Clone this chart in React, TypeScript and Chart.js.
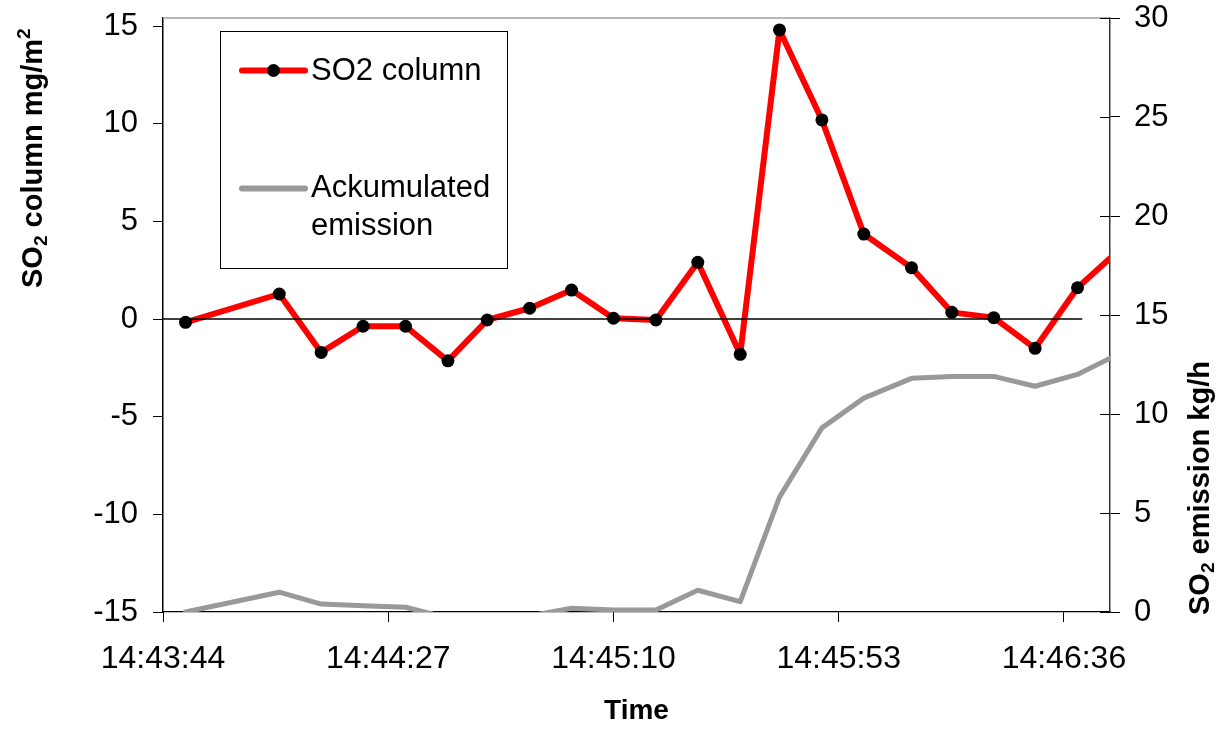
import React, { useEffect, useRef } from "react";
import { Chart, registerables } from "chart.js";

Chart.register(...registerables);

const W = 1226;
const H = 731;
const FONT = "'Liberation Sans', Arial, Helvetica, sans-serif";

// ---- data ----
// seconds after 14:43:44
const timeSeconds = [4.3, 22.2, 30.2, 38.2, 46.3, 54.4, 61.9, 70.0, 78.0, 86.0, 94.1, 102.1, 110.2, 117.7, 125.8, 133.8, 142.9, 150.6, 158.6, 166.5, 174.6, 182.6];
const so2Column = [-0.17, 1.28, -1.71, -0.37, -0.37, -2.14, -0.05, 0.55, 1.48, 0.04, -0.05, 2.9, -1.81, 14.8, 10.19, 4.35, 2.63, 0.34, 0.07, -1.5, 1.6, 3.55];
const accumulatedEmission = [0.0, 1.0, 0.4, 0.32, 0.24, -0.3, -0.4, -0.2, 0.19, 0.1, 0.1, 1.1, 0.52, 5.8, 9.3, 10.8, 11.8, 11.9, 11.9, 11.4, 12.0, 13.05];
const zeroLineX = [0, 175.5];
const zeroLineY = [0, 0];

const startTimeSec = 14 * 3600 + 43 * 60 + 44;
const xTickSeconds = [0, 43, 86, 129, 172];
const xMaxSeconds = 180.8;
const leftTicks = [-15, -10, -5, 0, 5, 10, 15];
const rightTicks = [0, 5, 10, 15, 20, 25, 30];

const legendLabelSO2 = "SO2 column";
const legendLabelEmission = ["Ackumulated", "emission"];
const xTitle = "Time";
const leftTitleParts: [string, string][] = [["SO", "n"], ["2", "sub"], [" column mg/m", "n"], ["2", "sup"]];
const rightTitleParts: [string, string][] = [["SO", "n"], ["2", "sub"], [" emission kg/h", "n"]];

const RED = "#ff0000";
const GREY = "#999999";

function fmtTime(sec: number) {
  const t = Math.round(startTimeSec + sec);
  const h = Math.floor(t / 3600);
  const m = Math.floor((t % 3600) / 60);
  const s = t % 60;
  const p = (n: number) => String(n).padStart(2, "0");
  return `${h}:${p(m)}:${p(s)}`;
}

function drawVerticalRich(ctx: CanvasRenderingContext2D, x: number, y: number, parts: [string, string][], size: number) {
  ctx.save();
  ctx.translate(x, y);
  ctx.rotate(-Math.PI / 2);
  ctx.textBaseline = "alphabetic";
  ctx.textAlign = "left";
  ctx.fillStyle = "#000";
  let cx = 0;
  for (const [text, kind] of parts) {
    let fs = size;
    let dy = 0;
    if (kind === "sub") {
      fs = size * 0.66;
      dy = size * 0.17;
    } else if (kind === "sup") {
      fs = size * 0.66;
      dy = -size * 0.42;
    }
    ctx.font = `bold ${fs}px ${FONT}`;
    ctx.fillText(text, cx, dy);
    cx += ctx.measureText(text).width;
  }
  ctx.restore();
}

const decorPlugin = {
  id: "decor",
  beforeDatasetsDraw(chart: any) {
    const { ctx, chartArea: ca } = chart;
    ctx.save();
    ctx.strokeStyle = "#a0a0a0";
    ctx.lineWidth = 1.5;
    ctx.beginPath();
    ctx.moveTo(ca.left, ca.top);
    ctx.lineTo(ca.right, ca.top);
    ctx.stroke();
    const y2 = chart.scales.y2;
    ctx.strokeStyle = "#000";
    ctx.lineWidth = 1;
    y2.ticks.forEach((t: any) => {
      const py = Math.round(y2.getPixelForValue(t.value)) + 0.5;
      ctx.beginPath();
      ctx.moveTo(ca.right - 10, py);
      ctx.lineTo(ca.right, py);
      ctx.stroke();
    });
    ctx.restore();
  },
  afterDraw(chart: any) {
    const { ctx, chartArea: ca } = chart;
    ctx.save();
    // legend box
    const bx = ca.left + 57;
    const by = ca.top + 13;
    ctx.fillStyle = "#fff";
    ctx.fillRect(bx, by, 287, 237);
    ctx.strokeStyle = "#000";
    ctx.lineWidth = 1;
    ctx.strokeRect(bx + 0.5, by + 0.5, 287, 237);

    ctx.lineCap = "round";
    ctx.lineWidth = 6;
    // SO2 column
    const y1 = by + 39.5;
    ctx.strokeStyle = RED;
    ctx.beginPath();
    ctx.moveTo(bx + 22, y1);
    ctx.lineTo(bx + 85, y1);
    ctx.stroke();
    ctx.fillStyle = "#000";
    ctx.beginPath();
    ctx.arc(bx + 53.5, y1, 6.5, 0, Math.PI * 2);
    ctx.fill();
    // emission
    const y2 = by + 157.5;
    ctx.strokeStyle = GREY;
    ctx.beginPath();
    ctx.moveTo(bx + 22, y2);
    ctx.lineTo(bx + 85, y2);
    ctx.stroke();

    ctx.fillStyle = "#000";
    ctx.font = `31px ${FONT}`;
    ctx.textBaseline = "middle";
    ctx.textAlign = "left";
    ctx.fillText(legendLabelSO2, bx + 91, y1 + 0.5);
    ctx.fillText(legendLabelEmission[0], bx + 91, y2 - 0.5);
    ctx.fillText(legendLabelEmission[1], bx + 91, y2 + 38);

    // axis titles
    drawVerticalRich(ctx, 42, 288, leftTitleParts, 29);
    drawVerticalRich(ctx, 1209, 615, rightTitleParts, 29);
    ctx.restore();
  },
};

export default function App() {
  const ref = useRef<HTMLCanvasElement | null>(null);

  useEffect(() => {
    document.body.style.margin = "0";
    const canvas = ref.current;
    if (!canvas) return;
    const redData = timeSeconds.map((x, i) => ({ x, y: so2Column[i] }));
    const greyData = timeSeconds.map((x, i) => ({ x, y: accumulatedEmission[i] }));
    const zeroData = zeroLineX.map((x, i) => ({ x, y: zeroLineY[i] }));

    const tickFont = { family: FONT, size: 31 };

    const chart = new Chart(canvas, {
      type: "line",
      data: {
        datasets: [
          {
            label: "Ackumulated emission",
            data: greyData,
            yAxisID: "y2",
            borderColor: GREY,
            borderWidth: 5,
            pointRadius: 0,
            borderJoinStyle: "round",
            borderCapStyle: "round",
            tension: 0,
            clip: 0,
            order: 3,
          },
          {
            label: "SO2 column",
            data: redData,
            yAxisID: "y",
            borderColor: RED,
            borderWidth: 6,
            pointRadius: 6.5,
            pointBackgroundColor: "#000",
            pointBorderColor: "#000",
            pointBorderWidth: 0,
            borderJoinStyle: "round",
            tension: 0,
            clip: 0,
            order: 2,
          },
          {
            label: "zero",
            data: zeroData,
            yAxisID: "y",
            borderColor: "#000",
            borderWidth: 1.5,
            pointRadius: 0,
            tension: 0,
            clip: 0,
            order: 1,
          },
        ],
      },
      options: {
        responsive: false,
        animation: false,
        events: [],
        layout: { padding: { top: 18, left: 0, right: 0, bottom: 0 } },
        plugins: { legend: { display: false }, tooltip: { enabled: false } },
        scales: {
          x: {
            type: "linear",
            position: "bottom",
            min: 0,
            max: xMaxSeconds,
            afterBuildTicks: (s: any) => {
              s.ticks = xTickSeconds.map((v) => ({ value: v }));
            },
            afterFit: (s: any) => {
              s.height = 119;
              s.paddingLeft = 0;
              s.paddingRight = 0;
            },
            ticks: {
              callback: (v: any) => fmtTime(Number(v)),
              font: { family: FONT, size: 32 },
              color: "#000",
              padding: 18,
              maxRotation: 0,
              autoSkip: false,
            },
            grid: { display: true, drawOnChartArea: false, drawTicks: true, tickLength: 10, color: "#000", lineWidth: 1 },
            border: { display: true, color: "#000", width: 1.2 },
            title: {
              display: true,
              text: xTitle,
              font: { family: FONT, size: 28, weight: "bold" },
              color: "#000",
              padding: { top: 0, bottom: 2.5 },
            },
          },
          y: {
            type: "linear",
            position: "left",
            min: -15,
            max: 15.41,
            afterBuildTicks: (s: any) => {
              s.ticks = leftTicks.map((v) => ({ value: v }));
            },
            afterFit: (s: any) => {
              s.width = 163;
              s.paddingTop = 0;
              s.paddingBottom = 0;
            },
            ticks: { font: tickFont, color: "#000", padding: 15 },
            grid: { display: true, drawOnChartArea: false, drawTicks: true, tickLength: 10, color: "#000", lineWidth: 1 },
            border: { display: true, color: "#000", width: 1.5 },
          },
          y2: {
            type: "linear",
            position: "right",
            min: 0,
            max: 30,
            afterBuildTicks: (s: any) => {
              s.ticks = rightTicks.map((v) => ({ value: v }));
            },
            afterFit: (s: any) => {
              s.width = W - 1110;
              s.paddingTop = 0;
              s.paddingBottom = 0;
            },
            ticks: { font: tickFont, color: "#000", padding: 14 },
            grid: { display: true, drawOnChartArea: false, drawTicks: true, tickLength: 10, color: "#000", lineWidth: 1 },
            border: { display: true, color: "#333", width: 1.5 },
          },
        },
      },
      plugins: [decorPlugin],
    } as any);

    return () => chart.destroy();
  }, []);

  return (
    <div style={{ width: W, height: H, background: "#fff" }}>
      <canvas ref={ref} width={W} height={H} style={{ display: "block", width: W, height: H }} />
    </div>
  );
}
